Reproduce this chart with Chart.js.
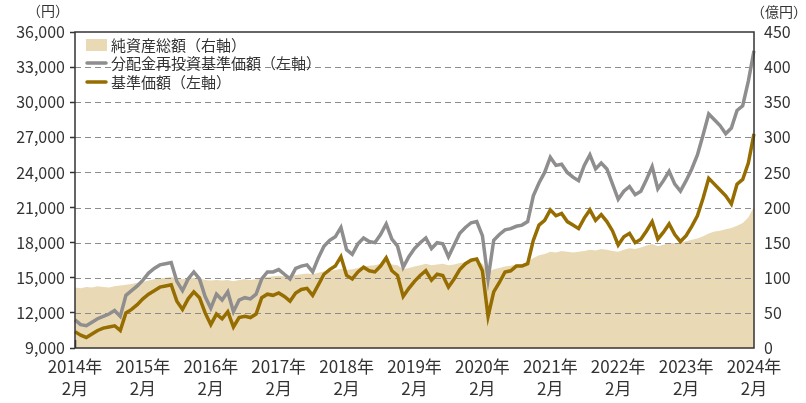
<!DOCTYPE html>
<html>
<head>
<meta charset="utf-8" />
<title>基準価額・純資産総額の推移</title>
<script src="https://cdn.jsdelivr.net/npm/chart.js"></script>
<style>
  html, body { margin: 0; padding: 0; background: #fff; }
</style>
</head>
<body>
<canvas id="myChart" width="806" height="403"></canvas>
<script>
// x軸の目盛（毎年2月）
const tickLabels = [
  ['2014年', '2月'], ['2015年', '2月'], ['2016年', '2月'], ['2017年', '2月'],
  ['2018年', '2月'], ['2019年', '2月'], ['2020年', '2月'], ['2021年', '2月'],
  ['2022年', '2月'], ['2023年', '2月'], ['2024年', '2月']
];

// 月次 2014/2 - 2024/2
// 純資産総額（億円・右軸）
const netAssets = [
  86, 85, 87, 86, 88, 87, 86, 88, 89, 90, 91,
  93, 94, 96, 98, 99, 100, 101, 99, 98, 99, 100, 99,
  97, 96, 97, 96, 97, 95, 97, 98, 97, 98, 100, 101,
  102, 103, 102, 103, 104, 105, 106, 105, 107, 109, 110, 111,
  113, 111, 112, 114, 116, 117, 118, 120, 123, 119, 118, 112,
  114, 116, 118, 120, 118, 119, 120, 118, 119, 121, 122, 123,
  124, 120, 108, 112, 114, 116, 117, 119, 120, 122, 128, 132,
  134, 137, 136, 138, 137, 136, 137, 138, 140, 139, 141, 140,
  138, 137, 140, 142, 141, 143, 146, 148, 145, 147, 150, 149,
  150, 152, 154, 156, 159, 163, 166, 167, 169, 171, 174, 178,
  186, 201
];

// 分配金再投資基準価額（円・左軸）
const navReinvested = [
  11400, 11000, 10900, 11200, 11500, 11700, 11900, 12200, 11700, 13500, 13900,
  14300, 14800, 15400, 15800, 16100, 16200, 16300, 14700, 13900, 14900, 15500, 14900,
  13400, 12400, 13600, 13100, 13800, 12100, 13100, 13300, 13200, 13600, 14900, 15500,
  15500, 15700, 15300, 14900, 15800, 16000, 16100, 15500, 16700, 17700, 18200, 18500,
  19300, 17400, 17000, 17900, 18400, 18100, 18000, 18700, 19600, 18300, 17700, 15900,
  16800, 17500, 18000, 18400, 17500, 18000, 17900, 16800, 17800, 18800, 19300, 19700,
  19800, 18600, 14900, 18200, 18700, 19100, 19200, 19400, 19500, 19800, 22000, 23100,
  24000, 25300, 24600, 24700, 24000, 23600, 23300, 24600, 25500, 24300, 24800, 24300,
  23000, 21700, 22400, 22800, 22100, 22400, 23400, 24500, 22600, 23300, 24100, 23000,
  22400, 23300, 24300, 25500, 27200, 29000, 28500, 28000, 27300, 27800, 29300, 29700,
  31800, 34400
];

// 基準価額（円・左軸）
const navBase = [
  10400, 10100, 9900, 10200, 10500, 10700, 10800, 10900, 10500, 12000, 12300,
  12700, 13200, 13600, 13900, 14200, 14300, 14400, 13000, 12300, 13200, 13800, 13300,
  12000, 11000, 11900, 11500, 12100, 10800, 11600, 11700, 11600, 11900, 13300, 13600,
  13500, 13700, 13400, 13000, 13700, 14000, 14100, 13500, 14400, 15300, 15700, 16000,
  16800, 15200, 14900, 15500, 15900, 15600, 15500, 16000, 16700, 15600, 15200, 13400,
  14100, 14700, 15200, 15600, 14800, 15300, 15200, 14200, 14900, 15700, 16200, 16500,
  16600, 15600, 11700, 13800, 14600, 15500, 15600, 16000, 16000, 16200, 18200, 19500,
  19900, 20800, 20300, 20500, 19800, 19500, 19200, 20100, 20800, 19900, 20400, 19800,
  19000, 17800, 18500, 18800, 18000, 18300, 19000, 19800, 18300, 18900, 19600, 18700,
  18100, 18600, 19400, 20300, 21800, 23500, 23000, 22500, 22000, 21300, 23000, 23400,
  24800, 27300
];

const months = navBase.map((v, i) => {
  const m = i + 1;
  return (2014 + Math.floor(m / 12)) + '/' + ((m % 12) + 1);
});

Chart.defaults.font.family = "'Noto Sans CJK JP', 'Noto Sans', sans-serif";
Chart.defaults.color = '#333';

const framePlugin = {
  id: 'frame',
  afterDatasetDraw(chart, args) {
    // 破線のグリッドは塗りの上、線の下
    if (args.index !== 0) return;
    const { ctx, chartArea: a } = chart;
    const y = chart.scales.y;
    ctx.save();
    ctx.strokeStyle = '#8c8c8c';
    ctx.lineWidth = 1.2;
    ctx.setLineDash([6, 4]);
    y.ticks.forEach((t) => {
      if (t.value <= y.min || t.value >= y.max) return;
      const py = Math.round(y.getPixelForValue(t.value)) + 0.5;
      ctx.beginPath();
      ctx.moveTo(a.left, py);
      ctx.lineTo(a.right, py);
      ctx.stroke();
    });
    ctx.restore();
  },
  afterDatasetsDraw(chart) {
    const { ctx, chartArea: a } = chart;
    const x = chart.scales.x;
    ctx.save();
    ctx.strokeStyle = '#333';
    ctx.lineWidth = 1.5;
    // 内向きの目盛
    x.ticks.forEach((t, i) => {
      if (i % 12 !== 0) return;
      const px = Math.round(x.getPixelForTick(i)) + 0.5;
      ctx.beginPath();
      ctx.moveTo(px, a.bottom);
      ctx.lineTo(px, a.bottom - 8);
      ctx.stroke();
    });
    ctx.strokeRect(a.left, a.top, a.right - a.left, a.bottom - a.top);
    ctx.restore();
  },
  afterDraw(chart) {
    const { ctx, chartArea: a } = chart;
    ctx.save();
    ctx.font = "14px 'Noto Sans CJK JP', sans-serif";
    ctx.fillStyle = '#333';
    ctx.textBaseline = 'middle';
    ctx.textAlign = 'center';
    ctx.fillText('（円）', 48, 11);
    ctx.fillText('（億円）', 779, 12);
    // 凡例
    ctx.font = "15px 'Noto Sans CJK JP', sans-serif";
    ctx.textAlign = 'left';
    const rows = [13, 31, 50];
    chart.data.datasets.forEach((ds, i) => {
      const cy = a.top + rows[i];
      const x0 = a.left + 11;
      if (ds.fill) {
        ctx.fillStyle = ds.backgroundColor;
        ctx.fillRect(x0, cy - 6, 21, 12);
      } else {
        ctx.strokeStyle = ds.borderColor;
        ctx.lineWidth = 3.5;
        ctx.lineCap = 'round';
        ctx.beginPath();
        ctx.moveTo(x0 + 1, cy);
        ctx.lineTo(x0 + 20, cy);
        ctx.stroke();
      }
      ctx.fillStyle = '#333';
      ctx.fillText(ds.label, x0 + 25, cy);
    });
    ctx.restore();
  }
};

new Chart(document.getElementById('myChart'), {
  type: 'line',
  data: {
    labels: months,
    datasets: [
      {
        label: '純資産総額（右軸）',
        data: netAssets,
        yAxisID: 'y2',
        fill: 'origin',
        backgroundColor: '#e9dab5',
        borderWidth: 0,
        pointRadius: 0,
        order: 3
      },
      {
        label: '分配金再投資基準価額（左軸）',
        data: navReinvested,
        yAxisID: 'y',
        borderColor: '#8f8d8d',
        borderWidth: 3.5,
        pointRadius: 0,
        fill: false,
        order: 2
      },
      {
        label: '基準価額（左軸）',
        data: navBase,
        yAxisID: 'y',
        borderColor: '#966d00',
        borderWidth: 3.5,
        pointRadius: 0,
        fill: false,
        order: 1
      }
    ]
  },
  options: {
    responsive: false,
    animation: false,
    devicePixelRatio: 1,
    layout: { padding: { top: 32, left: 0, right: 0, bottom: 0 } },
    plugins: { legend: { display: false }, tooltip: { enabled: false } },
    scales: {
      x: {
        offset: false,
        grid: { display: false, drawTicks: false },
        border: { display: false },
        ticks: {
          autoSkip: false,
          maxRotation: 0,
          padding: 7,
          font: { size: 17, lineHeight: 1.3 },
          callback: (v, i) => (i % 12 === 0 ? tickLabels[i / 12] : null)
        },
        afterFit: (s) => { s.height = 55; }
      },
      y: {
        position: 'left',
        min: 9000,
        max: 36000,
        grid: { display: true, drawOnChartArea: false, drawTicks: true, tickLength: 5, tickColor: '#333', tickWidth: 1.5 },
        border: { display: false },
        ticks: {
          stepSize: 3000,
          padding: 5,
          font: { size: 16 },
          callback: (v) => v.toLocaleString('en-US')
        },
        afterFit: (s) => { s.width = 75; }
      },
      y2: {
        position: 'right',
        min: 0,
        max: 450,
        grid: { display: false, drawTicks: false },
        border: { display: false },
        ticks: { stepSize: 50, padding: 10, font: { size: 16 } },
        afterFit: (s) => { s.width = 52; }
      }
    }
  },
  plugins: [framePlugin]
});
</script>
</body>
</html>
